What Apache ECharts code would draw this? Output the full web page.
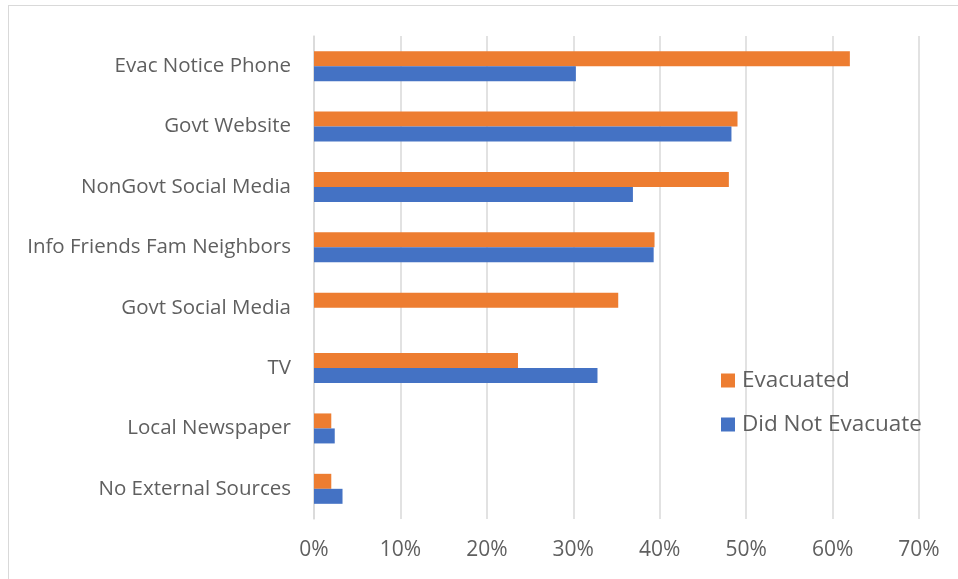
<!DOCTYPE html>
<html>
<head>
<meta charset="utf-8">
<script src="https://cdn.jsdelivr.net/npm/echarts@6/dist/echarts.min.js"></script>
<style>
html,body{margin:0;padding:0;background:#fff;}
#frame{position:absolute;left:8px;top:5px;width:1000px;height:1000px;border:1.5px solid #d9d9d9;box-sizing:border-box;}
#chart{position:absolute;left:0;top:0;width:958px;height:579px;}
</style>
</head>
<body>
<div id="frame"></div>
<div id="chart"></div>
<script>
const categories = ["Evac Notice Phone","Govt Website","NonGovt Social Media","Info Friends Fam Neighbors","Govt Social Media","TV","Local Newspaper","No External Sources"];
const evacuated = [62.0, 49.0, 48.0, 39.4, 35.2, 23.6, 2.0, 2.0];
const didNotEvacuate = [30.3, 48.3, 36.9, 39.3, 0, 32.8, 2.4, 3.3];
const xTicks = [0, 10, 20, 30, 40, 50, 60, 70];

const chart = echarts.init(document.getElementById('chart'));
const font = '"Open Sans", "Noto Sans", sans-serif';
chart.setOption({
  animation: false,
  backgroundColor: 'transparent',
  textStyle: { fontFamily: font },
  grid: { left: 314, right: 39, top: 36, bottom: 60, containLabel: false },
  legend: {
    orient: 'vertical',
    left: 716,
    top: 364,
    itemWidth: 14,
    itemHeight: 14,
    itemGap: 21,
    icon: 'rect',
    textStyle: { fontSize: 22.5, color: '#5f5f5f', fontFamily: font, padding: [0,0,0,2] },
    data: ['Evacuated', 'Did Not Evacuate']
  },
  xAxis: {
    type: 'value',
    min: xTicks[0],
    max: xTicks[xTicks.length - 1],
    interval: 10,
    axisLine: { show: false },
    axisTick: { show: false },
    splitLine: { lineStyle: { color: '#d9d9d9', width: 1.5 } },
    axisLabel: { formatter: '{value}%', fontSize: 21, color: '#5f5f5f', margin: 21 }
  },
  yAxis: {
    type: 'category',
    data: categories,
    inverse: true,
    axisLine: { show: true, lineStyle: { color: '#d9d9d9', width: 1.5 } },
    axisTick: { show: false },
    axisLabel: { fontSize: 20.5, color: '#5f5f5f', margin: 23 }
  },
  series: [
    { name: 'Evacuated', type: 'bar', data: evacuated, barWidth: 15, barGap: '0%', itemStyle: { color: '#ED7D31' } },
    { name: 'Did Not Evacuate', type: 'bar', data: didNotEvacuate, barWidth: 15, barGap: '0%', itemStyle: { color: '#4472C4' } }
  ]
});
</script>
</body>
</html>
